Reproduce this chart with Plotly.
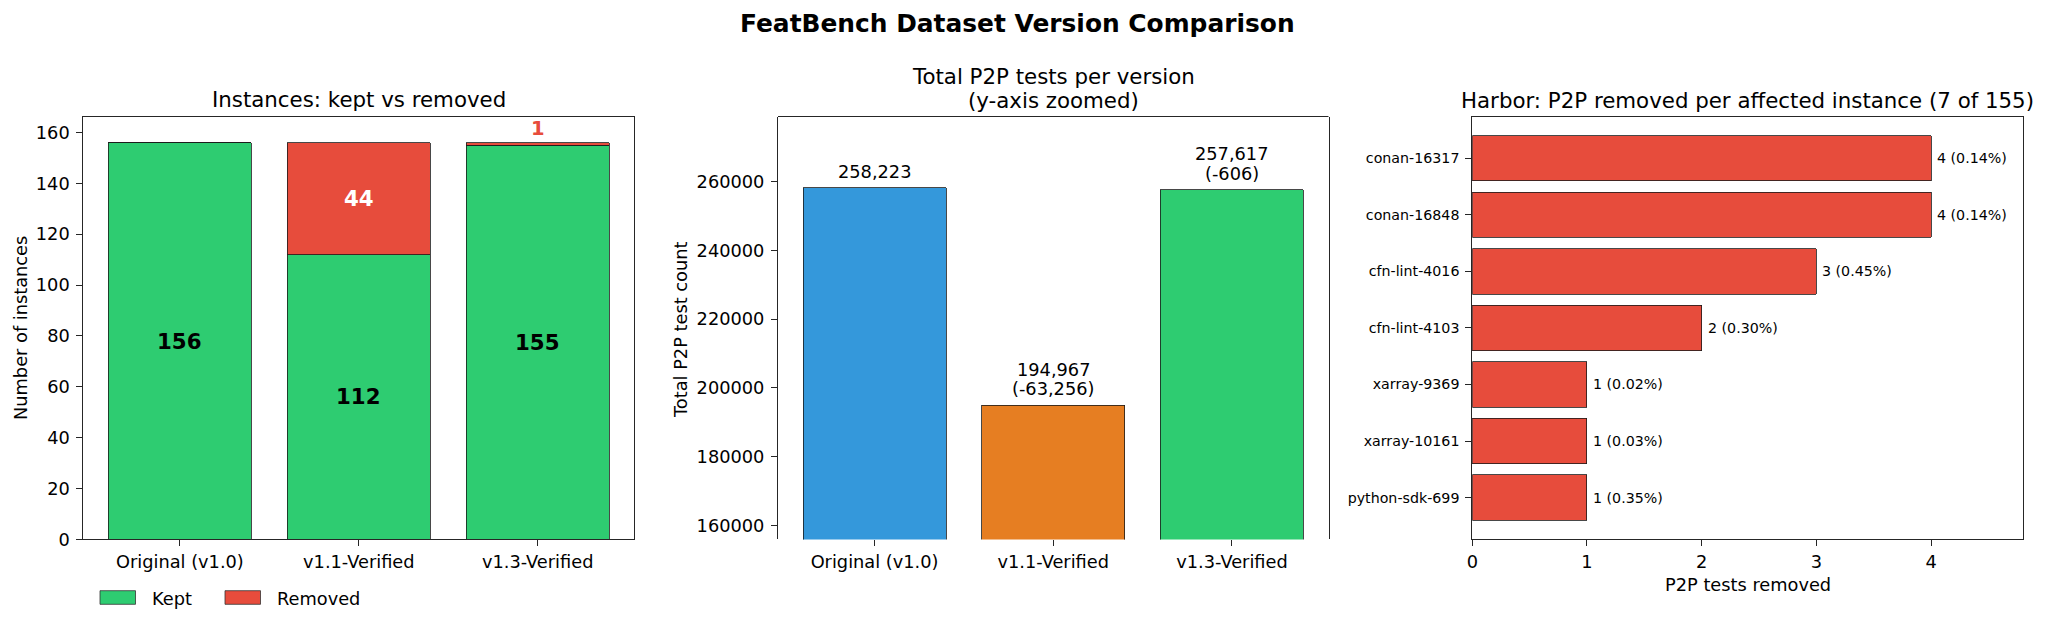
import plotly.graph_objects as go

# ---------------- data ----------------
versions = ["Original (v1.0)", "v1.1-Verified", "v1.3-Verified"]
kept = [156, 112, 155]
removed = [0, 44, 1]
p2p_totals = [258223, 194967, 257617]
harbor_instances = ["conan-16317", "conan-16848", "cfn-lint-4016", "cfn-lint-4103",
                    "xarray-9369", "xarray-10161", "python-sdk-699"]
harbor_removed = [4, 4, 3, 2, 1, 1, 1]
harbor_pct = [0.14, 0.14, 0.45, 0.30, 0.02, 0.03, 0.35]
inst_ticks = [0, 20, 40, 60, 80, 100, 120, 140, 160]
p2p_ticks = [160000, 180000, 200000, 220000, 240000, 260000]
harbor_ticks = [0, 1, 2, 3, 4]

# ---------------- style ----------------
W, H = 2048, 627
FONT = "DejaVu Sans"
GREEN, RED, BLUE, ORANGE = "#2ecc71", "#e74c3c", "#3498db", "#e67e22"
p2p_colors = [BLUE, ORANGE, GREEN]
EDGE = "#1a1a1a"
SPINE = "#262626"
PT = 1.778  # px per pt
F_TITLE, F_TICK, F_SUP = 12 * PT, 10 * PT, 14 * PT


def px(x):
    return x / W


def py(y):
    return 1 - y / H


X1 = [px(83.3), px(634.3)]
X2 = [px(778.0), px(1328.5)]
X3 = [px(1472.3), px(2022.8)]
YD = [py(539.4), py(116.5)]

fig = go.Figure()

fig.add_trace(go.Bar(x=versions, y=kept, name="Kept", width=0.8,
                     marker=dict(color=GREEN, line=dict(color=EDGE, width=0.8)),
                     xaxis="x", yaxis="y", showlegend=False))
fig.add_trace(go.Bar(x=versions, y=removed, name="Removed", width=0.8,
                     marker=dict(color=RED, line=dict(color=EDGE, width=0.8)),
                     xaxis="x", yaxis="y", showlegend=False))
fig.add_trace(go.Bar(x=versions, y=p2p_totals, width=0.8,
                     marker=dict(color=p2p_colors, line=dict(color=EDGE, width=0.8)),
                     xaxis="x2", yaxis="y2", showlegend=False))
fig.add_trace(go.Bar(y=harbor_instances, x=harbor_removed, orientation="h", width=0.8,
                     marker=dict(color=RED, line=dict(color=EDGE, width=0.8)),
                     xaxis="x3", yaxis="y3", showlegend=False))

axis_common = dict(showgrid=False, zeroline=False, ticks="outside", ticklen=6,
                   tickwidth=1, tickcolor=SPINE, linecolor=SPINE, linewidth=1,
                   automargin=False,
                   tickfont=dict(family=FONT, size=F_TICK, color="black"))
yaxis_common = {**axis_common, "ticklabelstandoff": 3}

fig.update_layout(
    width=W, height=H, autosize=False,
    margin=dict(l=0, r=0, t=0, b=0, pad=0, autoexpand=False),
    paper_bgcolor="white", plot_bgcolor="white",
    barmode="stack", bargap=0.2, showlegend=False,
    font=dict(family=FONT, color="black"),
    xaxis=dict(domain=X1, anchor="y", type="category", range=[-0.54, 2.54],
               showline=True, mirror=True, **axis_common),
    yaxis=dict(domain=YD, anchor="x", range=[0, 166.3], tickvals=inst_ticks,
               showline=True, mirror=True, **yaxis_common),
    xaxis2=dict(domain=X2, anchor="y2", type="category", range=[-0.54, 2.54],
                showline=False, **axis_common),
    yaxis2=dict(domain=YD, anchor="x2", range=[min(p2p_totals) * 0.8, max(p2p_totals) * 1.08],
                tickvals=p2p_ticks, ticktext=[str(t) for t in p2p_ticks],
                showline=True, mirror=True, **yaxis_common),
    xaxis3=dict(domain=X3, anchor="y3", range=[0, max(harbor_removed) * 1.2],
                tickvals=harbor_ticks, showline=True, mirror=True, **axis_common),
    yaxis3=dict(domain=YD, anchor="x3", type="category", categoryarray=harbor_instances,
                range=[len(harbor_instances) - 0.26, -0.74],
                showline=True, mirror=True,
                **{**yaxis_common, "tickfont": dict(family=FONT, size=8 * PT, color="black")}),
)

# top spine for the truncated middle panel
fig.add_shape(type="line", xref="x2 domain", yref="y2 domain", x0=0, x1=1, y0=1, y1=1,
              line=dict(color=SPINE, width=1))

ann = []


def text(x, y, t, size, **kw):
    d = dict(x=x, y=y, text=t, showarrow=False, xref="paper", yref="paper",
             font=dict(family=FONT, size=size, color=kw.pop("color", "black")),
             xanchor=kw.pop("xanchor", "center"), yanchor=kw.pop("yanchor", "middle"))
    d.update(kw)
    ann.append(d)


# titles
text(px(1017), py(24), "<b>FeatBench Dataset Version Comparison</b>", F_SUP)
text(px(358.7), py(100), "Instances: kept vs removed", F_TITLE)
text(px(1053), py(76.5), "Total P2P tests per version", F_TITLE)
text(px(1053), py(100.4), "(y-axis zoomed)", F_TITLE)
text(px(1747.5), py(100.4), "Harbor: P2P removed per affected instance (7 of 155)", F_TITLE)

# axis titles
text(px(20), py(328), "Number of instances", F_TICK, textangle=-90)
text(px(680), py(330), "Total P2P test count", F_TICK, textangle=-90)
text(px(1747.5), py(584.4), "P2P tests removed", F_TICK)

# panel 1 bar labels
for v, k, r in zip(versions, kept, removed):
    ann.append(dict(x=v, y=k / 2, xref="x", yref="y", text=f"<b>{k}</b>", showarrow=False,
                    font=dict(family=FONT, size=12 * PT, color="black")))
    if r >= 5:
        ann.append(dict(x=v, y=k + r / 2, xref="x", yref="y", text=f"<b>{r}</b>",
                        showarrow=False, font=dict(family=FONT, size=12 * PT, color="white")))
    elif r > 0:
        ann.append(dict(x=v, y=k + r, xref="x", yref="y", text=f"<b>{r}</b>",
                        showarrow=False, yanchor="middle", yshift=13.7,
                        font=dict(family=FONT, size=11 * PT, color=RED)))

# panel 2 bar labels
base = p2p_totals[0]
for i, (v, t) in enumerate(zip(versions, p2p_totals)):
    lines = [f"{t:,}"]
    if i > 0:
        lines.append(f"({t - base:,})")
    for j, ln in enumerate(reversed(lines)):
        ann.append(dict(x=v, y=t, xref="x2", yref="y2", text=ln, showarrow=False,
                        yanchor="middle", yshift=16.5 + 19.5 * j,
                        font=dict(family=FONT, size=F_TICK, color="black")))

# panel 3 bar labels
for inst, v, p in zip(harbor_instances, harbor_removed, harbor_pct):
    ann.append(dict(x=v, y=inst, xref="x3", yref="y3", text=f"{v} ({p:.2f}%)",
                    showarrow=False, xanchor="left", xshift=4,
                    font=dict(family=FONT, size=8 * PT, color="black")))

# legend (manual, matplotlib style)
for (x0, label, col) in [(100, "Kept", GREEN), (225, "Removed", RED)]:
    fig.add_shape(type="rect", xref="paper", yref="paper",
                  x0=px(x0), x1=px(x0 + 35.5), y0=py(604.3), y1=py(590.7),
                  fillcolor=col, line=dict(color="#333333", width=0.8))
    text(px(x0 + 50), py(598), label, F_TICK, xanchor="left")

fig.update_layout(annotations=ann)
fig.write_html("out.html")
